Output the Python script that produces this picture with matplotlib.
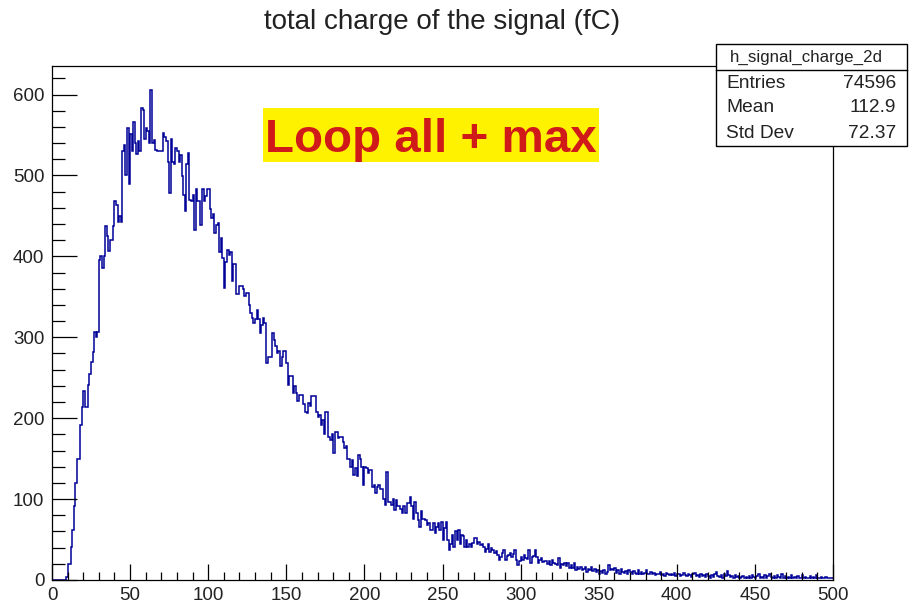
import numpy as np
import matplotlib
matplotlib.use("Agg")
import matplotlib.pyplot as plt
from matplotlib.patches import Rectangle
from matplotlib.ticker import MultipleLocator

plt.rcParams['font.family'] = ['Liberation Sans', 'DejaVu Sans']

# ---------------- data ----------------
x_min, x_max, n_bins = 0, 500, 500
counts = [
    0, 0, 0, 0, 0, 0, 0, 0, 0, 4,
    20, 20, 41, 62, 91, 120, 149, 149, 192, 214,
    233, 214, 214, 241, 254, 270, 282, 307, 300, 307,
    396, 400, 386, 400, 437, 425, 407, 420, 420, 437,
    468, 464, 442, 450, 442, 530, 538, 501, 559, 489,
    551, 530, 566, 540, 526, 543, 530, 583, 581, 545,
    559, 555, 540, 605, 540, 544, 532, 530, 530, 530,
    530, 553, 547, 542, 516, 478, 545, 516, 514, 534,
    530, 516, 525, 499, 476, 456, 514, 528, 470, 468,
    476, 433, 483, 468, 468, 439, 483, 468, 475, 483,
    483, 458, 447, 452, 429, 439, 441, 405, 423, 398,
    361, 393, 408, 402, 405, 369, 390, 390, 353, 353,
    363, 363, 360, 351, 355, 355, 340, 330, 324, 318,
    322, 334, 322, 305, 315, 324, 318, 268, 276, 276,
    276, 305, 297, 289, 280, 283, 264, 275, 283, 283,
    268, 241, 252, 252, 231, 240, 231, 221, 229, 229,
    229, 217, 208, 206, 219, 215, 227, 227, 227, 208,
    202, 204, 192, 198, 181, 208, 208, 177, 173, 181,
    157, 183, 183, 175, 177, 177, 170, 163, 165, 150,
    150, 140, 148, 130, 138, 128, 155, 150, 140, 118,
    140, 138, 132, 136, 136, 115, 118, 107, 115, 117,
    113, 113, 100, 93, 134, 97, 97, 93, 100, 87,
    99, 91, 91, 88, 83, 91, 83, 95, 95, 103,
    91, 76, 97, 83, 74, 66, 85, 76, 76, 74,
    68, 70, 62, 62, 70, 58, 65, 70, 62, 72,
    50, 64, 72, 50, 37, 45, 56, 41, 60, 50,
    62, 45, 55, 54, 41, 50, 41, 44, 41, 46,
    52, 52, 45, 47, 43, 45, 41, 35, 38, 45,
    35, 40, 37, 33, 36, 31, 25, 28, 33, 37,
    25, 30, 31, 33, 29, 32, 37, 25, 19, 24,
    29, 25, 31, 27, 26, 37, 21, 28, 30, 37,
    29, 21, 25, 27, 22, 23, 23, 20, 23, 19,
    25, 21, 20, 18, 27, 15, 20, 18, 21, 17,
    21, 15, 19, 15, 21, 12, 16, 14, 16, 12,
    13, 16, 10, 14, 12, 16, 11, 13, 10, 12,
    8, 11, 9, 12, 8, 10, 19, 12, 14, 12,
    15, 9, 12, 8, 14, 10, 9, 11, 8, 12,
    10, 8, 11, 9, 7, 12, 8, 10, 7, 9,
    12, 8, 7, 10, 8, 9, 6, 8, 7, 10,
    6, 8, 5, 9, 7, 6, 8, 6, 9, 5,
    7, 8, 5, 6, 9, 6, 5, 8, 6, 4,
    7, 9, 5, 6, 4, 7, 5, 6, 4, 7,
    5, 3, 6, 4, 8, 10, 5, 4, 6, 3,
    7, 5, 11, 6, 4, 5, 3, 6, 4, 5,
    3, 4, 5, 3, 4, 2, 5, 3, 6, 4,
    3, 5, 7, 3, 4, 2, 6, 3, 5, 8,
    4, 3, 5, 2, 6, 4, 3, 7, 3, 5,
    2, 4, 3, 6, 2, 4, 3, 5, 2, 3,
    6, 2, 4, 3, 2, 5, 3, 4, 2, 6,
    3, 2, 4, 3, 2, 4, 3, 2, 3, 2,
]
title = "total charge of the signal (fC)"
stats_name = "h_signal_charge_2d"
stats_labels = ["Entries", "Mean", "Std Dev"]
stats_values = ["74596", "112.9", "72.37"]
label_text = "Loop all + max"

# ---------------- figure ----------------
W, H = 909, 606
fig = plt.figure(figsize=(W / 100, H / 100), dpi=100)
fig.patch.set_facecolor("white")

def fx(px):
    return px / W

def fy(py):
    return 1 - py / H

ax = fig.add_axes([fx(52), fy(580), fx(833) - fx(52), fy(66) - fy(580)])
edges = np.linspace(x_min, x_max, n_bins + 1)
ax.stairs(np.array(counts), edges, color="#000099", linewidth=1.1, baseline=None)

ax.set_xlim(x_min, x_max)
ax.set_ylim(0, 1.05 * max(counts))

ax.xaxis.set_major_locator(MultipleLocator(50))
ax.xaxis.set_minor_locator(MultipleLocator(10))
ax.yaxis.set_major_locator(MultipleLocator(100))
ax.yaxis.set_minor_locator(MultipleLocator(20))

ax.tick_params(axis="x", which="major", direction="in", length=11.5, width=0.9,
               labelsize=13.5, pad=5, top=False, colors="black")
ax.tick_params(axis="x", which="minor", direction="in", length=5.8, width=0.9, top=False)
ax.tick_params(axis="y", which="major", direction="in", length=18, width=0.9,
               labelsize=13.5, pad=5.5, right=False)
ax.tick_params(axis="y", which="minor", direction="in", length=9.4, width=0.9, right=False)
for sp in ax.spines.values():
    sp.set_linewidth(0.9)
    sp.set_color("black")
for lab in ax.get_xticklabels() + ax.get_yticklabels():
    lab.set_color("#222222")

# title
fig.text(fx(442), fy(22), title, ha="center", va="center", fontsize=20, color="#222222")

# stats box
bx0, bx1, by0, by1 = 716, 907, 44, 146
fig.patches.append(Rectangle((fx(bx0), fy(by1)), fx(bx1) - fx(bx0), fy(by0) - fy(by1),
                             transform=fig.transFigure, facecolor="white",
                             edgecolor="black", linewidth=1.0, zorder=5))
fig.lines.append(plt.Line2D([fx(bx0), fx(bx1)], [fy(70), fy(70)],
                            transform=fig.transFigure, color="black", linewidth=1.0, zorder=6))
fig.text(fx((bx0 + bx1) / 2 - 5), fy(57), stats_name, ha="center", va="center",
         fontsize=12.2, color="#222222", zorder=7)
for i, (lab, val) in enumerate(zip(stats_labels, stats_values)):
    yy = fy(83 + 25 * i)
    fig.text(fx(726), yy, lab, ha="left", va="center", fontsize=13.8, color="#222222", zorder=7)
    fig.text(fx(896), yy, val, ha="right", va="center", fontsize=13.8, color="#222222", zorder=7)

# yellow label
fig.patches.append(Rectangle((fx(263), fy(162)), fx(599) - fx(263), fy(108) - fy(162),
                             transform=fig.transFigure, facecolor="#FFF200",
                             edgecolor="none", zorder=5))
fig.text(fx(265), fy(151.5), label_text, ha="left", va="baseline", fontsize=34.2,
         fontweight="bold", color="#D01A1A", zorder=7)

fig.savefig("out.png", dpi=100)
